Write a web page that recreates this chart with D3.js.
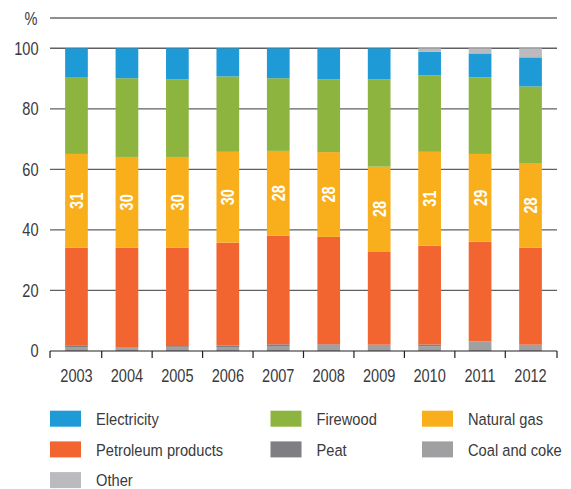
<!DOCTYPE html>
<html>
<head>
<meta charset="utf-8">
<script src="https://cdn.jsdelivr.net/npm/d3@7"></script>
<style>
  html, body { margin: 0; padding: 0; background: #fff; }
  svg { display: block; }
  text { font-family: "Liberation Sans", Arial, sans-serif; fill: #3a3a3c; }
</style>
</head>
<body>
<svg id="chart" width="571" height="489"></svg>
<script>
// Energy sources used for heating, share in %
const years = ["2003", "2004", "2005", "2006", "2007", "2008", "2009", "2010", "2011", "2012"];
const coalCoke    = [1.3, 0.9, 1.3, 1.3, 1.65, 2.0, 2.0, 1.5, 3.1, 2.0];
const peat        = [0.6, 0.3, 0.3, 0.55, 0.55, 0.2, 0.1, 0.65, 0.1, 0.1];
const petroleum   = [32.2, 32.9, 32.5, 33.95, 35.9, 35.5, 30.8, 32.65, 32.9, 32.0];
const naturalGas  = [31, 30, 30, 30, 28, 28, 28, 31, 29, 28];
const firewood    = [25.4, 26.0, 25.6, 24.9, 24.0, 24.0, 28.8, 25.3, 25.3, 25.3];
const electricity = [9.5, 9.9, 10.3, 9.3, 9.9, 10.3, 10.3, 7.7, 7.9, 9.6];
const other       = [0, 0, 0, 0, 0, 0, 0, 1.2, 1.7, 3.0];
const yTicks = [0, 20, 40, 60, 80, 100];

// Stack order, bottom to top
const series = [
  { key: "coal",        name: "Coal and coke",      values: coalCoke,    color: "#a0a0a3" },
  { key: "peat",        name: "Peat",               values: peat,        color: "#7f7f83" },
  { key: "petroleum",   name: "Petroleum products", values: petroleum,   color: "#f26531" },
  { key: "gas",         name: "Natural gas",        values: naturalGas,  color: "#f9ae1b" },
  { key: "firewood",    name: "Firewood",           values: firewood,    color: "#8db43e" },
  { key: "electricity", name: "Electricity",        values: electricity, color: "#1e9ad6" },
  { key: "other",       name: "Other",              values: other,       color: "#bbbbbf" }
];
const legendOrder = ["electricity", "firewood", "gas", "petroleum", "peat", "coal", "other"];

const rows = years.map((yr, i) => {
  const r = { year: yr };
  series.forEach(s => { r[s.key] = s.values[i]; });
  return r;
});

const svg = d3.select("#chart");
const plotLeft = 50, plotRight = 557, plotTop = 18, plotBottom = 351;
// horizontal squeeze giving the narrow type look
const narrow = 0.81, legendNarrow = 0.9;

const x = d3.scaleBand().domain(years).range([plotLeft, plotRight]).paddingInner(0.55).paddingOuter(0.3);
const y = d3.scaleLinear().domain([0, 110]).range([plotBottom, plotTop]);

// Gridlines
svg.append("g").selectAll("line")
  .data(yTicks.filter(d => d > 0))
  .join("line")
  .attr("x1", plotLeft).attr("x2", plotRight)
  .attr("y1", d => y(d)).attr("y2", d => y(d))
  .attr("stroke", "#5f6063").attr("stroke-width", 1.3);

svg.append("line")
  .attr("x1", plotLeft).attr("x2", plotRight)
  .attr("y1", y(110)).attr("y2", y(110))
  .attr("stroke", "#231f20").attr("stroke-width", 1.2);

svg.append("text")
  .attr("transform", `translate(31,${y(110) + 7}) scale(${narrow},1)`)
  .attr("text-anchor", "middle")
  .style("font-size", "18px")
  .text("%");

// Y axis labels
svg.append("g").selectAll("text")
  .data(yTicks)
  .join("text")
  .attr("transform", d => `translate(38.5,${y(d)}) scale(${narrow},1)`)
  .attr("dy", "0.36em")
  .attr("text-anchor", "end")
  .style("font-size", "18px")
  .text(d => d);

// Stacked bars
const stack = d3.stack().keys(series.map(s => s.key));
const stacked = stack(rows);
const colorOf = Object.fromEntries(series.map(s => [s.key, s.color]));

svg.append("g").selectAll("g")
  .data(stacked)
  .join("g")
  .attr("fill", d => colorOf[d.key])
  .selectAll("rect")
  .data(d => d)
  .join("rect")
  .attr("x", d => x(d.data.year))
  .attr("width", x.bandwidth())
  .attr("y", d => y(d[1]))
  .attr("height", d => y(d[0]) - y(d[1]));

// Natural gas value labels
const gasLayer = stacked.find(l => l.key === "gas");
svg.append("g").selectAll("text")
  .data(gasLayer)
  .join("text")
  .attr("transform", d => `translate(${x(d.data.year) + x.bandwidth() / 2},${y((d[0] + d[1]) / 2)}) rotate(-90) scale(${narrow},1)`)
  .attr("text-anchor", "middle")
  .attr("dy", "0.36em")
  .style("font-size", "18px")
  .style("font-weight", "bold")
  .style("fill", "#fff")
  .text(d => d.data.gas);

// X axis
const xAxis = svg.append("g");
xAxis.append("line")
  .attr("x1", plotLeft).attr("x2", plotRight)
  .attr("y1", plotBottom).attr("y2", plotBottom)
  .attr("stroke", "#231f20").attr("stroke-width", 1.2);
const tickPos = [plotLeft].concat(years.slice(1).map(yr => x(yr) - x.step() * x.paddingInner() / 2), [plotRight]);
xAxis.selectAll("line.tick")
  .data(tickPos)
  .join("line")
  .attr("class", "tick")
  .attr("x1", d => d).attr("x2", d => d)
  .attr("y1", plotBottom).attr("y2", plotBottom + 7)
  .attr("stroke", "#231f20").attr("stroke-width", 1.2);
xAxis.selectAll("text")
  .data(years)
  .join("text")
  .attr("transform", d => `translate(${x(d) + x.bandwidth() / 2},382) scale(${narrow},1)`)
  .attr("text-anchor", "middle")
  .style("font-size", "18px")
  .text(d => d);

// Legend
const legendCols = [50, 270.5, 422];
const legend = svg.append("g");
legendOrder.forEach((k, i) => {
  const s = series.find(d => d.key === k);
  const col = i % 3, row = Math.floor(i / 3);
  const gx = legendCols[col], gy = 410.7 + row * 30.7;
  legend.append("rect")
    .attr("x", gx).attr("y", gy)
    .attr("width", 31).attr("height", 16)
    .attr("fill", s.color);
  legend.append("text")
    .attr("transform", `translate(${gx + 46},${gy + 14.3}) scale(${legendNarrow},1)`)
    .style("font-size", "16.3px")
    .text(s.name);
});
</script>
</body>
</html>
